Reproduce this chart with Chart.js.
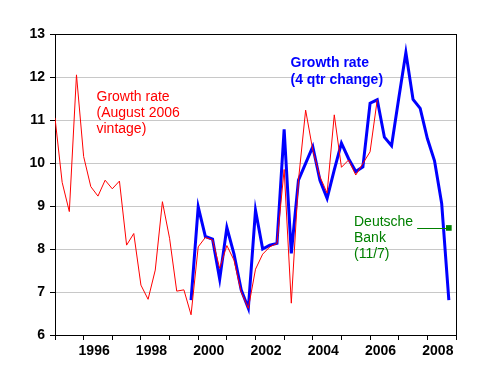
<!DOCTYPE html>
<html><head><meta charset="utf-8">
<script src="https://cdn.jsdelivr.net/npm/chart.js@4.4.1/dist/chart.umd.min.js"></script>
<style>html,body{margin:0;padding:0;background:#fff;}#wrap{width:499px;height:387px;}</style>
</head><body><div id="wrap"><canvas id="c" width="499" height="387"></canvas></div>
<script>
// Quarterly categories
const quarters = [
 "1995Q1","1995Q2","1995Q3","1995Q4","1996Q1","1996Q2","1996Q3","1996Q4",
 "1997Q1","1997Q2","1997Q3","1997Q4","1998Q1","1998Q2","1998Q3","1998Q4",
 "1999Q1","1999Q2","1999Q3","1999Q4","2000Q1","2000Q2","2000Q3","2000Q4",
 "2001Q1","2001Q2","2001Q3","2001Q4","2002Q1","2002Q2","2002Q3","2002Q4",
 "2003Q1","2003Q2","2003Q3","2003Q4","2004Q1","2004Q2","2004Q3","2004Q4",
 "2005Q1","2005Q2","2005Q3","2005Q4","2006Q1","2006Q2","2006Q3","2006Q4",
 "2007Q1","2007Q2","2007Q3","2007Q4","2008Q1","2008Q2","2008Q3","2008Q4"
];
// Growth rate (August 2006 vintage), starting 1995Q1
const redStart = "1995Q1";
const redValues = [11.05, 9.55, 8.87, 12.05, 10.15, 9.45, 9.23, 9.6, 9.4, 9.58,
 8.09, 8.36, 7.16, 6.83, 7.51, 9.1, 8.25, 7.02, 7.05, 6.47,
 8.05, 8.27, 8.21, 7.55, 8.08, 7.74, 7.0, 6.62, 7.53, 7.88,
 8.05, 8.13, 9.85, 6.74, 9.6, 11.23, 10.3, 9.68, 9.3, 11.12,
 9.9, 10.07, 9.72, 9.99, 10.26, 11.47];
// Growth rate (4 qtr change), starting 1999Q4
const blueStart = "1999Q4";
const blueValues = [6.81, 8.98, 8.29, 8.23, 7.3, 8.5, 7.88, 7.05, 6.62, 8.9,
 8.0, 8.09, 8.13, 10.78, 7.9, 9.6, 9.99, 10.38, 9.6, 9.18,
 9.84, 10.46, 10.1, 9.8, 9.91, 11.39, 11.47, 10.6, 10.4, 11.5,
 12.57, 11.48, 11.27, 10.57, 10.05, 9.06, 6.81];
// Deutsche Bank (11/7) forecast
const dbQuarter = "2008Q4";
const dbValue = 8.49;

const yTicks = [6, 7, 8, 9, 10, 11, 12, 13];
const xTickYears = [1995,1996,1997,1998,1999,2000,2001,2002,2003,2004,2005,2006,2007,2008,2009];
const xLabelYears = [1996, 1998, 2000, 2002, 2004, 2006, 2008];
const redLabel = ["Growth rate", "(August 2006", "vintage)"];
const blueLabel = ["Growth rate", "(4 qtr change)"];
const dbLabel = ["Deutsche", "Bank", "(11/7)"];

function qToYear(q){ return parseInt(q.slice(0,4),10) + (parseInt(q.slice(5),10)-1)/4; }
function series(start, vals){
  const i0 = quarters.indexOf(start);
  return vals.map((v,i)=>({x: qToYear(quarters[i0+i]), y: v}));
}

const FONT = "'Liberation Sans', Arial, sans-serif";
Chart.defaults.font.family = FONT;

const framePlugin = {
  id: 'frame',
  beforeDatasetsDraw(chart){
    const {ctx, chartArea:a} = chart;
    ctx.save();
    ctx.strokeStyle = '#000'; ctx.lineWidth = 1;
    ctx.beginPath();
    ctx.moveTo(a.left, a.top + 0.5); ctx.lineTo(a.right + 1, a.top + 0.5);
    ctx.moveTo(a.right + 0.5, a.top); ctx.lineTo(a.right + 0.5, a.bottom);
    ctx.stroke();
    ctx.restore();
  }
};

const textPlugin = {
  id: 'texts',
  afterDatasetsDraw(chart){
    const {ctx} = chart;
    const xs = chart.scales.x, ys = chart.scales.y;
    ctx.save();
    ctx.textBaseline = 'alphabetic'; ctx.textAlign = 'left';
    ctx.font = "14px " + FONT; ctx.fillStyle = '#ff0000';
    redLabel.forEach((t,i)=>ctx.fillText(t, 96.5, 100.7 + i*16));
    ctx.font = "bold 14px " + FONT; ctx.fillStyle = '#0000ff';
    blueLabel.forEach((t,i)=>ctx.fillText(t, 290.5, 67 + i*17));
    ctx.font = "14px " + FONT; ctx.fillStyle = '#008000';
    dbLabel.forEach((t,i)=>ctx.fillText(t, 354, 226 + i*16));
    const w = ctx.measureText(dbLabel[0]).width;
    const px = xs.getPixelForValue(qToYear(dbQuarter));
    const py = Math.round(ys.getPixelForValue(dbValue)) + 0.5;
    ctx.strokeStyle = '#008000'; ctx.lineWidth = 1;
    ctx.beginPath(); ctx.moveTo(354 + w + 4, py); ctx.lineTo(px, py); ctx.stroke();
    ctx.restore();
  }
};

new Chart(document.getElementById('c'), {
  type: 'line',
  data: {
    datasets: [
      {label:'DB', data:[{x: qToYear(dbQuarter), y: dbValue}], showLine:false,
       pointStyle:'rect', pointRadius:4, backgroundColor:'#008000', borderColor:'#008000', borderWidth:0, order:0},
      {label:'red', data: series(redStart, redValues), borderColor:'#ff0000', borderWidth:1,
       pointRadius:0, tension:0, fill:false, order:1},
      {label:'blue', data: series(blueStart, blueValues), borderColor:'#0000ff', borderWidth:3,
       pointRadius:0, tension:0, fill:false, order:2}
    ]
  },
  options: {
    responsive:false, animation:false, devicePixelRatio:1,
    layout:{padding:{top:34, right:43, left:0, bottom:0}},
    plugins:{legend:{display:false}, tooltip:{enabled:false}},
    scales:{
      x:{type:'linear', min:1995, max:2009,
        afterBuildTicks: s => { s.ticks = xTickYears.map(v=>({value:v})); },
        afterFit: s => { s.height = 52; },
        ticks:{autoSkip:false, maxRotation:0, minRotation:0, padding:3, labelOffset:10.5,
          color:'#000', font:{size:14, weight:'bold', family:FONT},
          callback: v => xLabelYears.includes(v) ? String(v) : ''},
        grid:{display:true, drawOnChartArea:false, tickLength:5, tickColor:'#000', color:'#000'},
        border:{display:true, color:'#000', width:1}
      },
      y:{type:'linear', min:6, max:13,
        afterBuildTicks: s => { s.ticks = yTicks.map(v=>({value:v})); },
        afterFit: s => { s.width = 55; },
        ticks:{padding:5, color:'#000', font:{size:14, weight:'bold', family:FONT},
          callback: v => String(v)},
        grid:{drawOnChartArea:true, tickLength:5, tickColor:'#000', lineWidth:1,
          color: c => (c.tick && (c.tick.value === 6 || c.tick.value === 13)) ? 'rgba(0,0,0,0)' : '#c8c8c8'},
        border:{display:true, color:'#000', width:1}
      }
    }
  },
  plugins:[framePlugin, textPlugin]
});
</script></body></html>
